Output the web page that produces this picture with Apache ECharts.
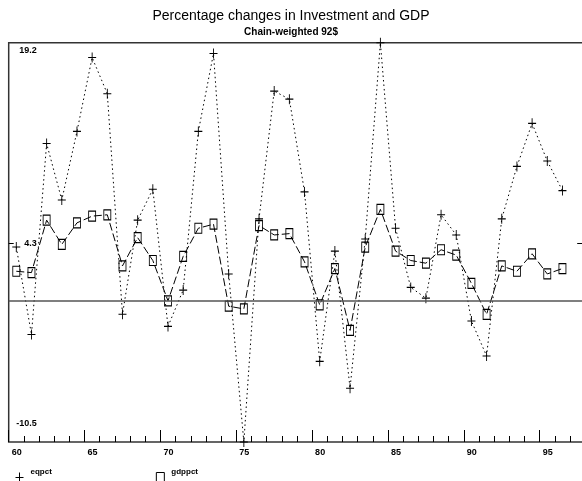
<!DOCTYPE html>
<html><head><meta charset="utf-8">
<script src="https://cdn.jsdelivr.net/npm/echarts@6/dist/echarts.min.js"></script>
<style>html,body{margin:0;padding:0;background:#fff}#c{width:582px;height:481px}</style>
</head><body><div id="c"></div>
<script>
// ---- data ----
const years = [60,61,62,63,64,65,66,67,68,69,70,71,72,73,74,75,76,77,78,79,80,81,82,83,84,85,86,87,88,89,90,91,92,93,94,95,96];
const eqpct = [4.0,-2.5,11.7,7.5,12.6,18.1,15.4,-1.0,6.0,8.3,-1.9,0.8,12.6,18.4,2.0,-10.5,6.1,15.6,15.0,8.1,-4.5,3.7,-6.5,4.6,19.2,5.4,1.0,0.2,6.4,4.9,-1.5,-4.1,6.1,10.0,13.2,10.4,8.2];
const gdppct = [2.2,2.1,6.0,4.2,5.8,6.3,6.4,2.6,4.7,3.0,0.0,3.3,5.4,5.7,-0.4,-0.6,5.6,4.9,5.0,2.9,-0.3,2.4,-2.2,4.0,6.8,3.7,3.0,2.8,3.8,3.4,1.3,-1.0,2.6,2.2,3.5,2.0,2.4];
const yTickValues = [-10.5, 4.3, 19.2];
const xTickLabels = [60,65,70,75,80,85,90,95];
const seriesNames = ['eqpct','gdppct'];
const titleText = 'Percentage changes in Investment and GDP';
const subtitleText = 'Chain-weighted 92$';

const FONT = 'Liberation Sans, Arial, sans-serif';
const PLUS = 'path://M4,0L4,10M0,5L8,5';

const chart = echarts.init(document.getElementById('c'), null, {renderer:'canvas'});
const eqData = years.map((y,i)=>[y+0.5, eqpct[i]]);
const gdpData = years.map((y,i)=>[y+0.5, gdppct[i]]);

chart.setOption({
  animation:false,
  backgroundColor:'#fff',
  title:[
    {text:titleText, left:'center', top:4, textStyle:{fontFamily:FONT,fontSize:14,fontWeight:'normal',color:'#000'}},
    {text:subtitleText, left:'center', top:22, textStyle:{fontFamily:FONT,fontSize:10,fontWeight:'bold',color:'#000'}}
  ],
  grid:{left:8.7, top:42.7, width:576.5, height:399.3, show:true, borderColor:'#333', borderWidth:1.5, backgroundColor:'transparent',
        outerBoundsMode:'none', containLabel:false},
  xAxis:[
    {type:'value', min:60, max:98, interval:1, axisLine:{show:false, onZero:false}, splitLine:{show:false},
     axisTick:{show:true, inside:true, length:6, lineStyle:{color:'#000',width:1}}, axisLabel:{show:false}},
    {type:'value', min:60, max:98, interval:5, position:'bottom', axisLine:{show:false, onZero:false}, splitLine:{show:false},
     axisTick:{show:true, inside:true, length:12, lineStyle:{color:'#000',width:1}},
     axisLabel:{show:true, margin:6, align:'left', padding:[0,0,0,3], fontFamily:FONT, fontSize:9, fontWeight:'bold', color:'#000',
       formatter:v=> xTickLabels.indexOf(v)>=0 ? String(v) : ''}}
  ],
  yAxis:[
    {type:'value', min:-10.5, max:19.2, position:'left', axisLine:{show:false, onZero:false}, splitLine:{show:false},
     axisTick:{show:true, inside:true, length:5, customValues:[yTickValues[1]], lineStyle:{color:'#000'}},
     axisLabel:{show:true, inside:true, margin:28, align:'right', customValues:yTickValues, fontFamily:FONT, fontSize:9, fontWeight:'bold', color:'#000',
       formatter:v=>{
         if (Math.abs(v-yTickValues[2])<1e-6) return '{t|'+yTickValues[2]+'}';
         if (Math.abs(v-yTickValues[0])<1e-6) return '{b|'+yTickValues[0]+'}';
         return '{m|'+v+'}';
       },
       rich:{
         t:{fontFamily:FONT,fontSize:9,fontWeight:'bold',color:'#000',padding:[16,0,0,0]},
         b:{fontFamily:FONT,fontSize:9,fontWeight:'bold',color:'#000',padding:[0,0,36,0]},
         m:{fontFamily:FONT,fontSize:9,fontWeight:'bold',color:'#000'}
       }}},
    {type:'value', min:-10.5, max:19.2, position:'right', axisLine:{show:false, onZero:false}, splitLine:{show:false},
     axisTick:{show:true, inside:true, length:8, customValues:[yTickValues[1]], lineStyle:{color:'#000'}},
     axisLabel:{show:false}}
  ],
  legend:{
    left:8, top:463, orient:'horizontal', itemWidth:8, itemHeight:10, itemGap:102,
    data:[{name:seriesNames[0], icon:PLUS},{name:seriesNames[1], icon:'rect'}],
    itemStyle:{color:'none', borderColor:'#000', borderWidth:1},
    lineStyle:{width:0},
    formatter:'{a|{name}}',
    textStyle:{fontFamily:FONT,fontSize:8,fontWeight:'bold',color:'#000',
      rich:{a:{fontFamily:FONT,fontSize:8,fontWeight:'bold',color:'#000',padding:[0,0,11,2]}}}
  },
  series:[
    {name:seriesNames[0], type:'line', xAxisIndex:0, yAxisIndex:0, data:eqData,
     symbol:PLUS, symbolSize:[8,10],
     itemStyle:{color:'none', borderColor:'#000', borderWidth:1},
     lineStyle:{color:'#000', width:1, type:[1.5,3]},
     markLine:{silent:true, symbol:['none','none'], label:{show:false},
       lineStyle:{color:'#555', width:1.5, type:'solid'}, data:[{yAxis:0}]}},
    {name:seriesNames[1], type:'line', xAxisIndex:0, yAxisIndex:0, data:gdpData,
     symbol:'rect', symbolSize:[7,10],
     itemStyle:{color:'none', borderColor:'#000', borderWidth:1},
     lineStyle:{color:'#000', width:1, type:[8,3]}}
  ]
});
</script></body></html>
